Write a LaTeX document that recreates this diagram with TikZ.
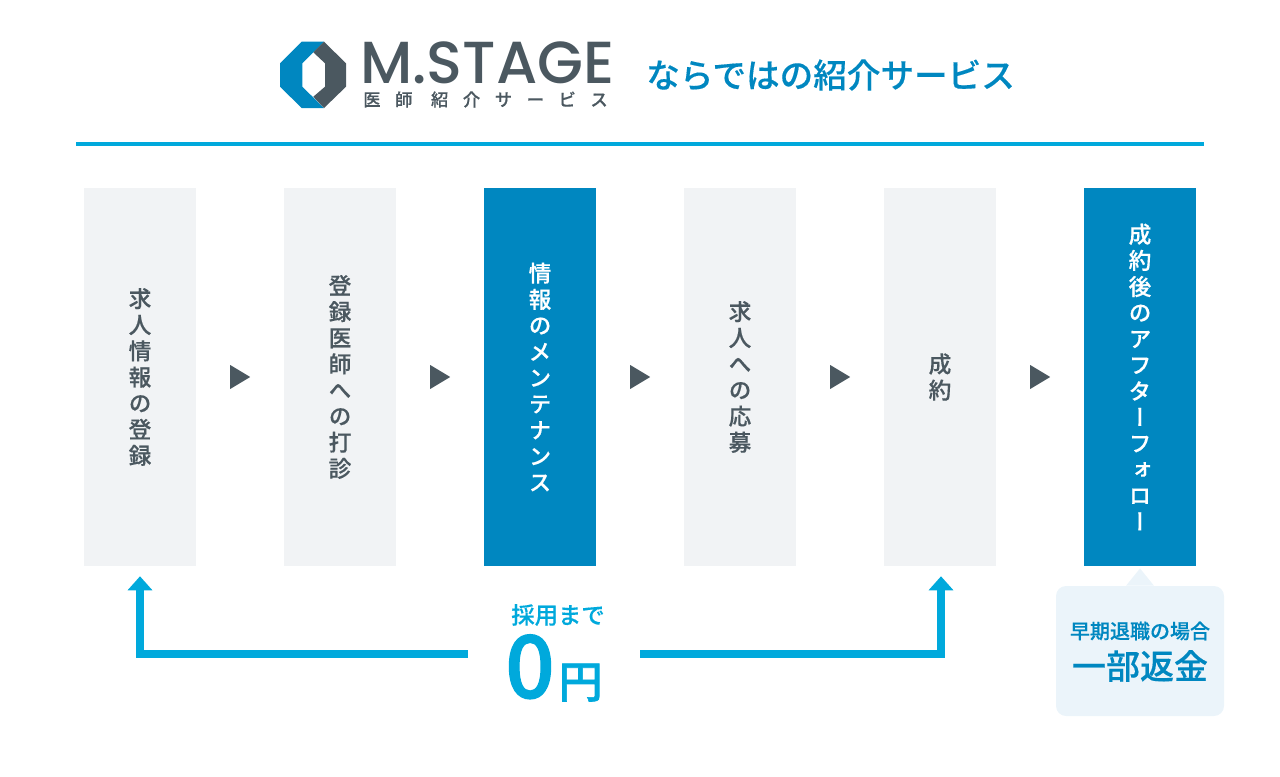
\documentclass[tikz,border=0pt]{standalone}
\usepackage{fontspec}
\setmainfont[FakeBold=0.35]{Noto Sans CJK JP Medium}
\newfontfamily\tatefont[RawFeature={+vert},FakeBold=0.35]{Noto Sans CJK JP Medium}
\newfontfamily\logofont{Poppins Medium}
\newfontfamily\feefont[FakeBold=1.4]{Noto Sans CJK JP Medium}
\usetikzlibrary{%
    arrows.meta,shapes.geometric%
}
\definecolor{mainblue}{HTML}{0087C0}
\definecolor{lineblue}{HTML}{00A9DC}
\definecolor{darkgray}{HTML}{4B5860}
\definecolor{palegray}{HTML}{F1F3F5}
\definecolor{paleblue}{HTML}{EBF4FA}

\begin{document}
\begin{tikzpicture}[x=0.75pt,y=-0.75pt,
    stepbox/.style={minimum width=84pt,minimum height=283.5pt,inner sep=0pt,
        align=center,fill=palegray,text=darkgray,
        font={\fontsize{17pt}{19.6pt}\selectfont\tatefont}},
    hotbox/.style={stepbox,fill=mainblue,text=white},
    nextmark/.style={isosceles triangle,isosceles triangle stretches,
        minimum width=18pt,minimum height=15pt,inner sep=0pt,fill=darkgray},
    route/.style={draw=lineblue,line width=6pt,-{Triangle[length=10.5pt,width=18pt]},
        shorten >=7.5pt}]
\useasboundingbox (0,0) rectangle (1280,776);
% logo
\fill[mainblue] (280,63.3)--(301.7,41.7)--(324,41.7)--(302.3,63.3)--(302.3,86.7)--(324,108)--(301.7,108)--(280,86.7)--cycle;
\fill[darkgray] (324,41.7)--(346,63.3)--(346,86.7)--(324,108)--(313.3,96.7)--(325,86.7)--(325,63.3)--(313.3,52.3)--cycle;
\node[anchor=base west,inner sep=0pt,text=darkgray] (logoname) at (360,83)
    {\logofont\fontsize{44.5pt}{44pt}\selectfont M.STAGE};
\node[anchor=west,inner sep=0pt,text=darkgray] (logosub) at (363,99.5)
    {\fontsize{13pt}{13pt}\selectfont\addfontfeature{LetterSpace=84}医師 紹介サービス};
\node[anchor=west,inner sep=0pt,text=mainblue] (headline) at (646,75)
    {\fontsize{25.2pt}{26pt}\selectfont ならではの紹介サービス};
\draw[lineblue,line width=3pt] (76,144)--(1204,144);

% steps
\node[stepbox] (hire) at (140,377) {求\\人\\情\\報\\の\\登\\録};
\node[stepbox] (talk) at (340,377) {登\\録\\医\\師\\へ\\の\\打\\診};
\node[hotbox] (care) at (540,377) {情\\報\\の\\メ\\ン\\テ\\ナ\\ン\\ス};
\node[stepbox] (apply) at (740,377) {求\\人\\へ\\の\\応\\募};
\node[stepbox] (deal) at (940,377) {成\\約};
\node[hotbox] (after) at (1140,377) {成\\約\\後\\の\\ア\\フ\\タ\\ー\\フ\\ォ\\ロ\\ー};
\node[nextmark] (next1) at (237,377) {};
\node[nextmark] (next2) at (437,377) {};
\node[nextmark] (next3) at (637,377) {};
\node[nextmark] (next4) at (837,377) {};
\node[nextmark] (next5) at (1037,377) {};

% fee
\node[inner sep=0pt,text=lineblue] (untilhire) at (558,615)
    {\fontsize{17.5pt}{18pt}\selectfont 採用まで};
\node[inner sep=0pt,minimum width=129pt,minimum height=50pt,text=lineblue] (zero) at (554,668)
    {\feefont\fontsize{65pt}{65pt}\selectfont 0\hspace{3pt}\fontsize{33pt}{33pt}\selectfont 円\hspace{3pt}};
\draw[route] ([yshift=10.5pt]zero.west) -| (hire.south);
\draw[route] ([yshift=10.5pt]zero.east) -| ([xshift=0.75pt]deal.south);

% refund note
\node[fill=paleblue,rounded corners=7.5pt,minimum width=126pt,minimum height=97.5pt,inner sep=0pt] (note) at (1140,651) {};
\fill[paleblue] ([xshift=-10.5pt]note.north) -- ++(10.5pt,13pt) -- ++(10.5pt,-13pt) -- cycle;
\node[inner sep=0pt,text=mainblue] (early) at (1140,631)
    {\fontsize{15pt}{16pt}\selectfont 早期退職の場合};
\node[inner sep=0pt,text=mainblue] (refund) at (1140,666)
    {\fontsize{25.5pt}{26pt}\selectfont 一部返金};
\end{tikzpicture}
\end{document}
